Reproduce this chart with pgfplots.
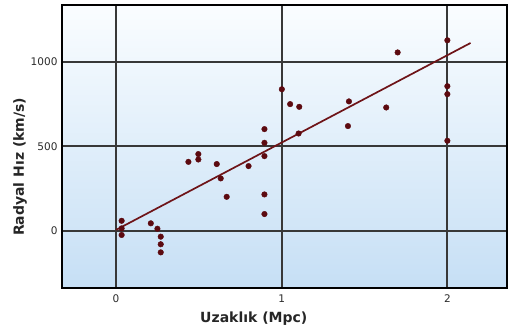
\documentclass[border=0pt]{standalone}
\usepackage{pgfplots}
\pgfplotsset{compat=1.18}
\usepackage{fontspec}
\setmainfont{DejaVu Sans}
\definecolor{pt}{HTML}{5C0A10}
\definecolor{ln}{HTML}{6E1418}
\definecolor{gridc}{HTML}{383838}
\definecolor{bgtop}{HTML}{FAFDFF}
\definecolor{bgbot}{HTML}{C6DFF5}
\definecolor{tickc}{HTML}{2A2A2A}
\begin{document}
\begin{tikzpicture}
\begin{axis}[
  scale only axis,
  width=445pt, height=283pt,
  xmin=-0.326, xmax=2.36,
  ymin=-339, ymax=1337,
  xtick={0,1,2}, ytick={0,500,1000},
  major tick length=0pt,
  grid=major,
  grid style={gridc, line width=1.8pt},
  axis line style={black, line width=1.3pt},
  axis background/.style={top color=bgtop, bottom color=bgbot},
  /pgf/number format/assume math mode=true,
  /pgf/number format/1000 sep={},
  tick label style={font=\fontsize{10.5}{12}\selectfont, text=tickc},
  yticklabel style={xshift=-1pt},
  xticklabel style={yshift=-3pt},
  xlabel={Uzaklık (Mpc)},
  ylabel={Radyal Hız (km/s)},
  label style={font=\bfseries\fontsize{14}{16}\selectfont, text=black!85},
  xlabel style={at={(axis description cs:0.431,-0.11)}, anchor=center},
  ylabel style={at={(axis description cs:-0.094,0.428)}, anchor=center},
]
\addplot[ln, line width=1.7pt] coordinates {(0.0,5) (2.14,1112)};
\addplot[only marks, mark=*, mark size=2.8pt, mark options={fill=pt, draw=pt}] coordinates {
(0.034,59) (0.034,14) (0.034,-25) (0.21,44) (0.25,12) (0.27,-35) (0.27,-80) (0.27,-128)
(0.437,408) (0.497,454) (0.497,422) (0.608,395) (0.632,310) (0.668,201) (0.80,383)
(0.896,602) (0.896,521) (0.896,442) (0.896,215) (0.896,99)
(1.001,838) (1.051,750) (1.106,734) (1.102,576) (1.406,766) (1.40,620) (1.631,730)
(1.70,1056) (2.0,1128) (2.0,856) (2.0,809) (2.0,533)
};
\end{axis}
\pgfresetboundingbox
\path[use as bounding box] ([shift={(-62pt,-45pt)}]current axis.south west) rectangle ([shift={(1pt,5pt)}]current axis.north east);
\end{tikzpicture}
\end{document}
